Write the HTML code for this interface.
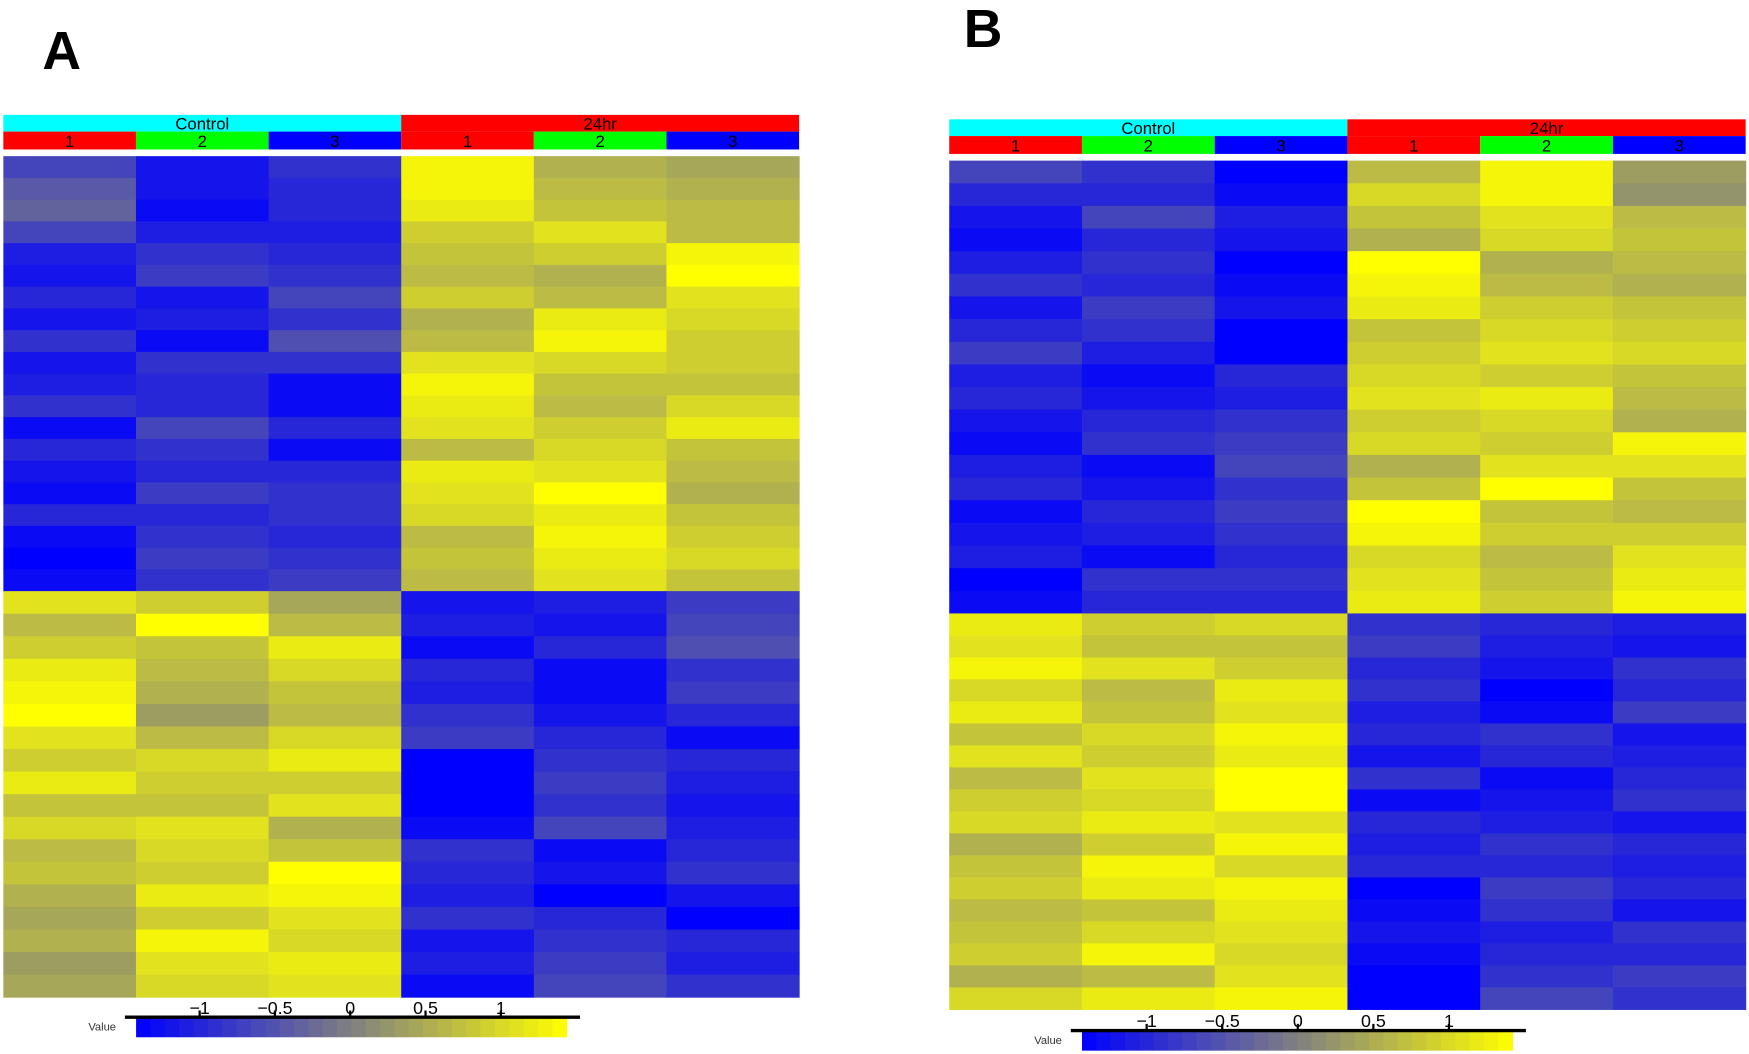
<!DOCTYPE html>
<html><head><meta charset="utf-8"><style>
html,body{margin:0;padding:0;background:#fff;}
svg{display:block;}
text{font-family:"Liberation Sans",sans-serif;}
</style></head><body>
<svg id="fig" width="1749" height="1054" viewBox="0 0 1568 945" preserveAspectRatio="none" xmlns="http://www.w3.org/2000/svg"></svg>
<script>
const sampleLabels = ["1","2","3","1","2","3"];
const sampleColors = ["#ff0000","#00ff00","#0000ff","#ff0000","#00ff00","#0000ff"];
const groupLabels = ["Control","24hr"];
const tickValues = [-1,-0.5,0,0.5,1];
const tickLabels = ["\u22121","\u22120.5","0","0.5","1"];
const aTop = [
[-0.6,-1.1,-0.8,1.2,0.5,0.4],[-0.4,-1.1,-0.9,1.2,0.6,0.5],[-0.3,-1.2,-0.9,1.1,0.7,0.6],[-0.6,-1.0,-1.0,0.8,1.0,0.6],
[-1.0,-0.8,-0.9,0.7,0.8,1.2],[-1.1,-0.7,-0.8,0.6,0.5,1.3],[-0.9,-1.1,-0.6,0.8,0.6,1.0],[-1.1,-1.0,-0.8,0.5,1.1,0.9],
[-0.8,-1.2,-0.5,0.6,1.2,0.8],[-1.1,-0.8,-0.8,1.0,0.9,0.8],[-1.0,-0.9,-1.2,1.2,0.7,0.7],[-0.8,-0.9,-1.2,1.1,0.6,0.9],
[-1.2,-0.6,-0.9,1.0,0.8,1.1],[-0.9,-0.8,-1.2,0.6,0.9,0.7],[-1.1,-0.9,-0.9,1.1,1.0,0.6],[-1.2,-0.7,-0.8,1.0,1.3,0.5],
[-0.9,-0.9,-0.8,0.9,1.1,0.7],[-1.2,-0.8,-0.9,0.6,1.2,0.8],[-1.3,-0.7,-0.8,0.7,1.1,0.9],[-1.2,-0.8,-0.7,0.6,1.0,0.7]];
const aBottom = [
[1.0,0.8,0.4,-1.1,-1.0,-0.7],[0.6,1.3,0.6,-1.0,-1.1,-0.6],[0.8,0.7,1.1,-1.2,-0.9,-0.5],[1.1,0.6,0.9,-0.9,-1.2,-0.8],
[1.2,0.5,0.7,-1.0,-1.2,-0.7],[1.3,0.3,0.6,-0.8,-1.1,-0.9],[1.0,0.6,0.9,-0.7,-0.9,-1.2],[0.8,0.9,1.1,-1.3,-0.8,-0.9],
[1.1,0.8,0.8,-1.3,-0.7,-1.0],[0.7,0.7,1.0,-1.3,-0.8,-1.1],[0.9,1.0,0.5,-1.2,-0.6,-1.0],[0.6,0.9,0.7,-0.8,-1.2,-0.9],
[0.7,0.8,1.3,-0.9,-1.1,-0.8],[0.5,1.1,1.2,-1.0,-1.3,-1.1],[0.4,0.8,1.0,-0.8,-0.9,-1.3],[0.5,1.2,0.9,-1.1,-0.8,-0.9],
[0.3,1.0,1.1,-1.0,-0.7,-1.0],[0.4,0.9,1.0,-1.2,-0.6,-0.8]];
const bTop = [
[-0.6,-0.8,-1.3,0.6,1.2,0.3],[-0.9,-0.9,-1.2,0.9,1.2,0.2],[-1.1,-0.6,-1.0,0.7,1.0,0.6],[-1.2,-0.9,-1.1,0.5,0.9,0.7],
[-1.0,-0.8,-1.3,1.3,0.5,0.6],[-0.8,-0.9,-1.2,1.2,0.6,0.5],[-1.1,-0.7,-1.1,1.1,0.8,0.7],[-0.9,-0.8,-1.3,0.7,0.9,0.8],
[-0.7,-1.0,-1.3,0.8,1.0,0.9],[-1.0,-1.2,-0.9,0.9,0.8,0.7],[-0.9,-1.1,-1.0,1.0,1.1,0.6],[-1.1,-0.9,-0.8,0.8,0.9,0.5],
[-1.2,-0.8,-0.7,0.9,0.8,1.2],[-1.0,-1.2,-0.6,0.5,1.0,1.0],[-0.9,-1.1,-0.8,0.7,1.3,0.7],[-1.2,-0.9,-0.7,1.3,0.7,0.6],
[-1.1,-1.0,-0.8,1.2,0.8,0.8],[-1.0,-1.2,-0.9,0.9,0.6,1.0],[-1.3,-0.8,-0.8,1.0,0.7,1.1],[-1.2,-0.9,-0.9,1.1,0.8,1.2]];
const bBottom = [
[1.1,0.8,0.9,-0.8,-0.9,-1.0],[1.0,0.7,0.7,-0.7,-1.0,-1.1],[1.2,1.0,0.8,-0.9,-1.1,-0.8],[0.9,0.6,1.1,-0.8,-1.3,-0.9],
[1.1,0.7,1.0,-1.0,-1.2,-0.7],[0.7,0.9,1.2,-0.9,-0.8,-1.1],[1.0,0.8,1.1,-1.1,-0.9,-1.0],[0.6,1.0,1.3,-0.8,-1.2,-0.9],
[0.8,0.9,1.3,-1.2,-1.1,-0.8],[0.9,1.1,1.0,-0.9,-1.0,-1.1],[0.5,0.8,1.2,-1.0,-0.8,-0.9],[0.7,1.2,0.9,-0.9,-0.9,-1.0],
[0.8,1.1,1.2,-1.3,-0.7,-0.9],[0.6,0.7,1.1,-1.2,-0.8,-1.1],[0.7,0.9,1.0,-1.1,-1.0,-0.8],[0.8,1.2,0.9,-1.2,-0.9,-0.9],
[0.5,0.6,1.0,-1.3,-0.8,-0.7],[0.9,1.1,1.2,-1.3,-0.6,-0.8]];

const NS="http://www.w3.org/2000/svg";
const svg=document.getElementById('fig');
function el(tag,attrs,parent){const e=document.createElementNS(NS,tag);for(const k in attrs)e.setAttribute(k,attrs[k]);(parent||svg).appendChild(e);return e;}
function color(v){const vmin=-1.3,vmax=1.3;let t=(Math.max(vmin,Math.min(vmax,v))-vmin)/(vmax-vmin);let c;
 if(t<0.5){const s=t/0.5;c=[128*s,128*s,255-127*s];}else{const s=(t-0.5)/0.5;c=[128+127*s,128+127*s,128-128*s];}
 return `rgb(${c.map(Math.round).join(',')})`;}

function panel(cfg){
 const g=el('g',{});
 
 
 const lab=el('text',{x:cfg.labelX,y:cfg.labelY,'font-size':48,'font-weight':'bold'},g);lab.textContent=cfg.label;
 
 const x0=cfg.x0,cw=cfg.cw;
 const xs=i=>x0+i*cw;
 // group bars
 groupLabels.forEach((gl,i)=>{
  const r=el('rect',{x:xs(i*3),y:cfg.gy,width:cw*3,height:15,fill:i==0?'#00ffff':'#ff0000'},g);
  
  const t=el('text',{x:xs(i*3)+cw*1.5,y:cfg.gy+13,'font-size':15,'text-anchor':'middle'},g);t.textContent=gl;
  
 });
 sampleLabels.forEach((s,i)=>{
  const r=el('rect',{x:xs(i),y:cfg.gy+15,width:cw,height:16,fill:sampleColors[i]},g);
  
  const t=el('text',{x:xs(i)+cw/2,y:cfg.gy+29,'font-size':15,'text-anchor':'middle'},g);t.textContent=s;
  
 });
 // cells
 const draw=(rows,y0,y1)=>{const h=(y1-y0)/rows.length;rows.forEach((row,ri)=>row.forEach((v,ci)=>{
  const r=el('rect',{x:xs(ci),y:y0+ri*h,width:cw+0.5,height:h+0.5,fill:color(v)},g);
  }));};
 draw(cfg.top,cfg.hy0,cfg.hsplit);draw(cfg.bottom,cfg.hsplit,cfg.hy1);
 // legend
 const lx0=cfg.lbx,lx1=cfg.lbx+386,ly=cfg.ly;
 const scale=v=>cfg.l0+(v+1)*(cfg.l1-cfg.l0)/2;
 const n=30;for(let i=0;i<n;i++){const v=-1.3+2.6*(i+0.5)/n;
  const r=el('rect',{x:lx0+i*(lx1-lx0)/n,y:ly+1,width:(lx1-lx0)/n+0.5,height:17,fill:color(v)},g);
  }
 const ax=el('line',{x1:cfg.lbx-10,x2:cfg.lbx+398,y1:ly,y2:ly,stroke:'#000','stroke-width':3},g);
 
 tickValues.forEach((v,i)=>{const x=scale(v);
  const tk=el('line',{x1:x,x2:x,y1:ly-6,y2:ly,stroke:'#000','stroke-width':2},g);
  
  const t=el('text',{x:x,y:ly-3,'font-size':16,'text-anchor':'middle'},g);t.textContent=tickLabels[i];
  });
 const vt=el('text',{x:lx0-18,y:ly+12,'font-size':10,'text-anchor':'end',fill:'#333'},g);vt.textContent='Value';
 
}
panel({name:'panel-a',label:'A',labelX:38,labelY:62,x0:3,cw:118.9,gy:103,hy0:140,hsplit:530,hy1:894,top:aTop,bottom:aBottom,lbx:122,ly:912,l0:179,l1:449});
panel({name:'panel-b',label:'B',labelX:864,labelY:42,x0:851,cw:119,gy:107,hy0:144,hsplit:550,hy1:905,top:bTop,bottom:bBottom,lbx:970,ly:924,l0:1028,l1:1299});
</script>
</body></html>
